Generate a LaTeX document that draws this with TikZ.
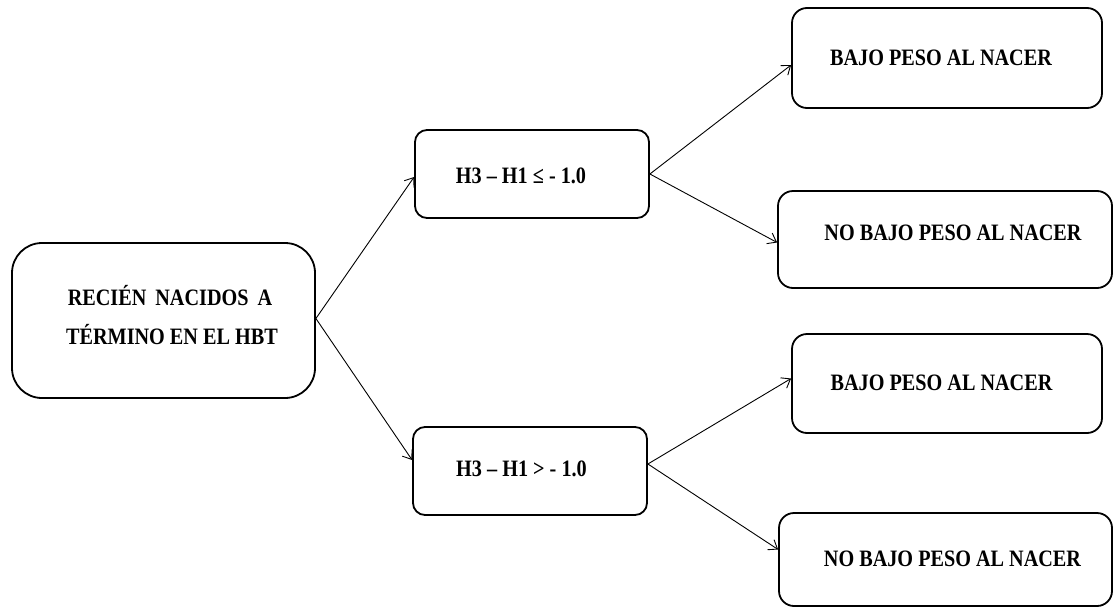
\documentclass[tikz,border=0pt]{standalone}
\usepackage{fontspec}
\setmainfont{Liberation Serif}[FakeStretch=0.86]
\usetikzlibrary{arrows.meta}
\begin{document}
\begin{tikzpicture}[x=1pt,y=-1pt,
  box/.style={draw, line width=1.8pt, inner sep=0pt, rounded corners=#1},
  lbl/.style={anchor=base, inner sep=0pt, font=\fontsize{23.5}{28}\selectfont\bfseries},
  conn/.style={line width=0.9pt, -{Straight Barb[length=8pt,width=12pt,line width=0.9pt]}}]
\useasboundingbox (0,0) rectangle (1114,608);
% boxes
\node[box=30pt, minimum width=303pt, minimum height=155pt] (root) at (163.5,320.5) {};
\node[box=12pt, minimum width=234pt, minimum height=88pt] (mt) at (532,174) {};
\node[box=12pt, minimum width=234pt, minimum height=88pt] (mb) at (530,471) {};
\node[box=15pt, minimum width=310pt, minimum height=100pt] (r1) at (947,58) {};
\node[box=15pt, minimum width=334pt, minimum height=97pt] (r2) at (945,239.5) {};
\node[box=15pt, minimum width=310pt, minimum height=99pt] (r3) at (947,383.5) {};
\node[box=15pt, minimum width=333pt, minimum height=93pt] (r4) at (945.5,559.5) {};
% texts
\node[lbl] (t0a) at (170,305) {RECIÉN\, NACIDOS\, A};
\node[lbl] (t0b) at (172,344) {TÉRMINO EN EL HBT};
\node[lbl] (tmt) at (521,183) {H3 – H1 ≤ - 1.0};
\node[lbl] (tmb) at (521.5,476) {H3 – H1 > - 1.0};
\node[lbl] (t1) at (941,65) {BAJO PESO AL NACER};
\node[lbl] (t2) at (953,240) {NO BAJO PESO AL NACER};
\node[lbl] (t3) at (941.5,390) {BAJO PESO AL NACER};
\node[lbl] (t4) at (952.5,566) {NO BAJO PESO AL NACER};
% connectors
\draw[conn] ([yshift=2pt]root.east) -- ([yshift=-3pt]mt.west);
\draw[conn] ([yshift=2pt]root.east) -- ([yshift=11pt]mb.west);
\draw[conn] (mt.east) -- ([yshift=-7pt]r1.west);
\draw[conn] (mt.east) -- ([yshift=-3pt]r2.west);
\draw[conn] ([yshift=7pt]mb.east) -- ([yshift=5pt]r3.west);
\draw[conn] ([yshift=7pt]mb.east) -- ([yshift=10pt]r4.west);
\end{tikzpicture}
\end{document}
